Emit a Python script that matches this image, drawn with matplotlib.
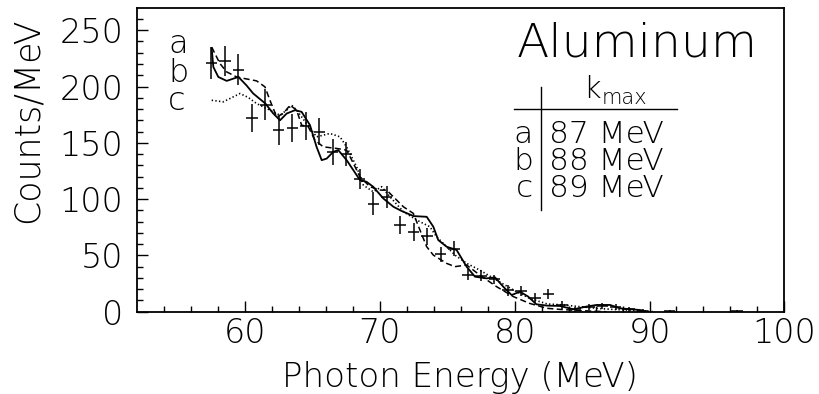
import matplotlib
matplotlib.use("Agg")
import matplotlib.pyplot as plt
from matplotlib.lines import Line2D

# ---------------- data ----------------
energy = [57.5, 58.5, 59.5, 60.5, 61.5, 62.5, 63.5, 64.5, 65.5, 66.5, 67.5, 68.5,
          69.5, 70.5, 71.5, 72.5, 73.5, 74.5, 75.5, 76.5, 77.5, 78.5, 79.5, 80.5,
          81.5, 82.5, 83.5, 84.5, 85.5, 86.5, 87.5, 88.5, 89.5, 91.5, 96.5]
counts = [221, 223, 215, 172, 184, 161, 163, 165, 160, 142, 140, 118,
          96, 102, 77, 71, 67, 51, 56, 33, 32, 29, 19, 18,
          12, 16, 6, 2, 4, 5, 4, 2, 1, 0.8, 0.8]
count_err = [14.5, 13.3, 14, 12.6, 14, 12.6, 12.6, 12.6, 11.8, 11.8, 11, 9,
             10.4, 9.6, 8, 8, 7.4, 6.7, 6.7, 5.2, 5, 4, 5, 4.4,
             4.4, 4.4, 3.4, 2, 2.5, 2.5, 2.5, 2, 1.5, 0.8, 0.8]
energy_err = 0.42

# curve a (solid)
a_x = [57.52, 57.64, 58.01, 58.63, 59.5, 60.1, 60.6, 61.5, 62.09, 62.59, 63.08, 63.7,
       64.19, 64.81, 65.3, 65.68, 66.05, 66.54, 66.91, 67.53, 68.52, 69.0, 69.5, 70.25,
       71.0, 71.6, 72.5, 73.47, 73.96, 74.33, 74.95, 75.69, 76.43, 77.05, 77.92, 78.54,
       79.15, 79.77, 80.39, 81.0, 81.6, 82.4, 83.36, 84.35, 85.3, 86.08, 87.07, 87.8,
       89.3, 89.8]
a_y = [233.7, 217.4, 208.5, 205, 208.5, 201, 193.8, 184.9, 176, 170, 176, 179,
       177.5, 165.7, 146.4, 134.6, 136, 142, 143.5, 134.6, 116.9, 115.4, 111, 100.6,
       93.2, 89.5, 84.9, 84.3, 75.5, 63.6, 57.7, 54.8, 40, 31.1, 29.6, 30.5,
       22.2, 14.8, 17.8, 13.4, 6.6, 5.4, 5.1, 2.1, 4.5, 6, 6, 3,
       1.5, 0]

# curve b (dashed)
b_x = [57.52, 58.13, 58.63, 59.37, 59.99, 60.85, 61.47, 61.84, 62.34, 62.83, 63.33, 63.82,
       64.19, 64.69, 65.18, 65.8, 66.79, 67.53, 68.03, 68.52, 69.26, 70.0, 70.5, 71.0,
       71.74, 72.48, 72.97, 73.47, 73.96, 74.95, 75.57, 76.43, 77.4, 78.66, 79.9, 81.1,
       82.4, 83.4, 84.8, 86.8]
b_y = [235, 220.4, 213, 208.5, 207, 205, 199.7, 187.8, 173, 176, 183.4, 179,
       165.7, 164.2, 152.4, 146.4, 145, 143.5, 131.7, 119.8, 111, 108, 108, 102,
       93.2, 87.3, 72.5, 57.7, 50.3, 42.9, 40, 41.5, 32.6, 22.2, 13.4, 7.4,
       3, 2, 1, 0]

# curve c (dotted)
c_x = [57.52, 58.38, 59.12, 59.62, 60.24, 60.85, 61.84, 62.59, 63.08, 63.45, 63.82, 64.56,
       65.3, 66.29, 67.04, 67.53, 68.27, 68.77, 69.51, 70.13, 70.75, 71.74, 72.73, 73.7,
       74.2, 74.95, 75.6, 76.43, 77.4, 78.66, 79.9, 81.1, 82.4, 83.6, 84.8, 86.1,
       87.3, 89.3, 90.3]
c_y = [187.8, 186.4, 190.8, 193.8, 190.2, 184.9, 179, 174.5, 179, 183.4, 179, 167.1,
       155.3, 158.3, 155.3, 146.4, 128.7, 112.4, 106.5, 111, 102, 88.8, 81.4, 75.5,
       66.6, 57.7, 50, 43, 37, 28, 19.3, 11.9, 6.9, 6, 4.5, 3,
       2, 1, 0]

xticks = [60, 70, 80, 90, 100]
yticks = [0, 50, 100, 150, 200, 250]
labels_abc = ["a", "b", "c"]
kmax_vals = ["87 MeV", "88 MeV", "89 MeV"]

# ---------------- style ----------------
plt.rcParams["font.family"] = ["DejaVu Sans"]
plt.rcParams["font.weight"] = "light"
W, H = 819, 394
fig = plt.figure(figsize=(W / 100, H / 100), dpi=100)
ax = fig.add_axes([137.3 / W, 1 - 311.7 / H, (784.3 - 137.3) / W, (311.7 - 7.7) / H])

ax.plot(a_x, a_y, color="black", lw=1.3, ls="-")
ax.plot(b_x, b_y, color="black", lw=1.1, ls=(0, (4, 2.2)))
ax.plot(c_x, c_y, color="black", lw=1.2, ls=(0, (0.8, 1.4)))
ax.errorbar(energy, counts, yerr=count_err, xerr=energy_err, fmt="none",
            ecolor="black", elinewidth=1.1, capsize=0)

ax.set_xlim(52, 100)
ax.set_ylim(0, 270)
ax.set_xticks(xticks)
ax.set_yticks(yticks)
ax.set_xticks([x for x in range(54, 100, 2) if x % 10 != 0], minor=True)
ax.set_yticks([y for y in range(10, 270, 10) if y % 50 != 0], minor=True)
ax.tick_params(which="both", direction="in", top=False, right=False, width=1.0,
               colors="black")
ax.tick_params(which="major", length=7.7, labelsize=24)
ax.tick_params(which="minor", length=4.0)
ax.tick_params(axis="x", pad=4)
ax.tick_params(axis="y", pad=10)
for s in ax.spines.values():
    s.set_linewidth(1.3)
    s.set_color("black")
for lab in ax.get_xticklabels() + ax.get_yticklabels():
    lab.set_fontweight("light")

fig.text(460 / W, 1 - 386.7 / H, "Photon Energy (MeV)", ha="center", va="baseline",
         fontsize=24.5, fontweight="light")
fig.text(27.5 / W, 1 - 120 / H, "Counts/MeV", ha="center", va="center",
         rotation=90, fontsize=25, fontweight="light")

fig.text(516.7 / W, 1 - 56.7 / H, "Aluminum", ha="left", va="baseline",
         fontsize=34, fontweight="light")

# a b c labels on the left
for i, t in enumerate(labels_abc):
    fig.text(168 / W, 1 - (53.3 + 28.3 * i) / H, t, ha="left", va="baseline",
             fontsize=23, fontweight="light")

# k_max table
fig.text(583 / W, 1 - 98.3 / H, "k", ha="left", va="baseline", fontsize=22,
         fontweight="light")
fig.text(602 / W, 1 - 103.5 / H, "max", ha="left", va="baseline", fontsize=15,
         fontweight="light")
for i, (t, v) in enumerate(zip(labels_abc, kmax_vals)):
    yb = 1 - (143.3 + 26.7 * i) / H
    fig.text(533 / W, yb, t, ha="right", va="baseline", fontsize=22.5, fontweight="light")
    fig.text(549 / W, yb, v, ha="left", va="baseline", fontsize=22.5, fontweight="light")
fig.add_artist(Line2D([514 / W, 677 / W], [1 - 109 / H, 1 - 109 / H], color="black", lw=1.0))
fig.add_artist(Line2D([541 / W, 541 / W], [1 - 86.7 / H, 1 - 210 / H], color="black", lw=1.0))

fig.savefig("out.png", dpi=100)
